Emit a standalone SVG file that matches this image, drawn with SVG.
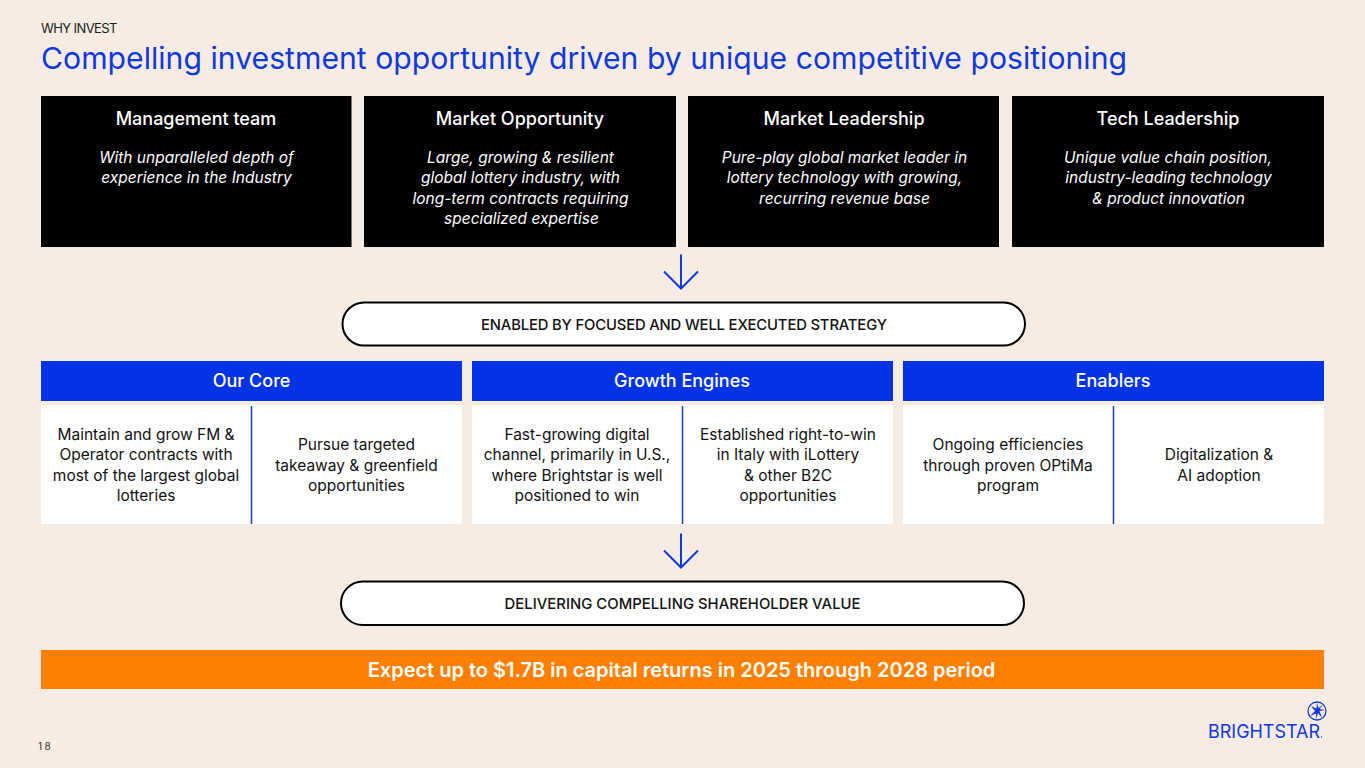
<svg xmlns="http://www.w3.org/2000/svg" width="1365" height="768" viewBox="0 0 1365 768">
<style>
text{font-family:"Inter","Liberation Sans",sans-serif}
.h{font-size:18px;font-weight:500;fill:#fff;text-anchor:middle}
.i{font-size:15.500px;font-style:italic;fill:#fff;text-anchor:middle}
.b{font-size:15.500px;fill:#111;text-anchor:middle}
.p{font-size:14.800px;font-weight:500;fill:#111;text-anchor:middle}
.pill{fill:#fff;stroke:#000;stroke-width:2}
.k{fill:#000}.bl{fill:#0433e6}.w{fill:#fff}
.ln{stroke:#0f3ad8;fill:none;stroke-width:2}
.dv{stroke:#0f3ad8;fill:none;stroke-width:1.500}
</style>
<defs><path id="arr" d="M0-34V0M-17-17L0 0L17-17" class="ln"/></defs>
<rect width="1365" height="768" fill="#f6ece3"/>
<text x="41" y="33" font-size="13" letter-spacing="-0.6" fill="#1a1a1a">WHY INVEST</text>
<text x="41" y="69" font-size="30.200" fill="#0f3ad8">Compelling investment opportunity driven by unique competitive positioning</text>
<g id="n-management"><rect class="k" x="41" y="96" width="310.500" height="151"/><text class="h" x="196" y="125">Management team</text><text class="i" x="196.500" y="163">With unparalleled depth of</text><text class="i" x="196.500" y="183">experience in the Industry</text></g>
<g id="n-opportunity"><rect class="k" x="364" y="96" width="312" height="151"/><text class="h" x="520" y="125">Market Opportunity</text><text class="i" x="520.500" y="163">Large, growing &amp; resilient</text><text class="i" x="520.500" y="183">global lottery industry, with</text><text class="i" x="520.500" y="204">long-term contracts requiring</text><text class="i" x="521.500" y="224">specialized expertise</text></g>
<g id="n-leadership"><rect class="k" x="688" y="96" width="311" height="151"/><text class="h" x="844" y="125">Market Leadership</text><text class="i" x="844.500" y="163">Pure-play global market leader in</text><text class="i" x="844.500" y="183">lottery technology with growing,</text><text class="i" x="844.500" y="204">recurring revenue base</text></g>
<g id="n-tech"><rect class="k" x="1012" y="96" width="312" height="151"/><text class="h" x="1168" y="125">Tech Leadership</text><text class="i" x="1168" y="163">Unique value chain position,</text><text class="i" x="1168.500" y="183">industry-leading technology</text><text class="i" x="1168.500" y="204">&amp; product innovation</text></g>
<g id="connectors"><use href="#arr" x="681" y="288.500"/><use href="#arr" x="681" y="567.500"/></g>
<g id="n-enabled"><rect class="pill" x="342.500" y="302.500" width="682.500" height="43" rx="21.500"/><text class="p" x="684" y="329.500" textLength="406">ENABLED BY FOCUSED AND WELL EXECUTED STRATEGY</text></g>
<g id="n-core"><rect class="bl" x="41" y="361" width="421" height="40"/><text class="h" x="251.500" y="387">Our Core</text><rect class="w" x="41" y="405" width="421" height="119"/><path class="dv" d="M251.500 406V524"/><text class="b" x="146" y="440">Maintain and grow FM &amp;</text><text class="b" x="146" y="460">Operator contracts with</text><text class="b" x="146" y="481">most of the largest global</text><text class="b" x="146" y="501">lotteries</text><text class="b" x="356.500" y="450">Pursue targeted</text><text class="b" x="356.500" y="471">takeaway &amp; greenfield</text><text class="b" x="356.500" y="491">opportunities</text></g>
<g id="n-growth"><rect class="bl" x="472" y="361" width="421" height="40"/><text class="h" x="682" y="387">Growth Engines</text><rect class="w" x="472" y="405" width="421" height="119"/><path class="dv" d="M682.500 406V524"/><text class="b" x="577" y="440">Fast-growing digital</text><text class="b" x="577" y="460">channel, primarily in U.S.,</text><text class="b" x="577" y="481">where Brightstar is well</text><text class="b" x="577" y="501">positioned to win</text><text class="b" x="788" y="440">Established right-to-win</text><text class="b" x="788" y="460">in Italy with iLottery</text><text class="b" x="788" y="481">&amp; other B2C</text><text class="b" x="788" y="501">opportunities</text></g>
<g id="n-enablers"><rect class="bl" x="903" y="361" width="421" height="40"/><text class="h" x="1113" y="387">Enablers</text><rect class="w" x="903" y="405" width="421" height="119"/><path class="dv" d="M1113.500 406V524"/><text class="b" x="1008" y="450">Ongoing efficiencies</text><text class="b" x="1008" y="471">through proven OPtiMa</text><text class="b" x="1008" y="491">program</text><text class="b" x="1219" y="460">Digitalization &amp;</text><text class="b" x="1219" y="481">AI adoption</text></g>
<g id="n-delivering"><rect class="pill" x="341" y="581.500" width="683" height="43.500" rx="21.700"/><text class="p" x="682.500" y="608.500" textLength="356">DELIVERING COMPELLING SHAREHOLDER VALUE</text></g>
<g id="n-returns"><rect x="41" y="650" width="1283" height="39" fill="#ff7f00"/><text x="681.500" y="676.500" font-size="20" font-weight="600" fill="#fff" text-anchor="middle">Expect up to $1.7B in capital returns in 2025 through 2028 period</text></g>
<text x="38" y="750" font-size="10" letter-spacing="2.500" fill="#333">18</text>
<g id="logo"><text x="1208" y="738" font-size="19" font-family="Liberation Sans" fill="#0f3ad8" textLength="112" lengthAdjust="spacingAndGlyphs">BRIGHTSTAR</text><circle cx="1321.500" cy="737" r="0.700" fill="#0f3ad8"/><circle cx="1317" cy="711" r="9" fill="none" stroke="#0f3ad8" stroke-width="1.300"/><path d="M1317 703L1316.500 708.500L1311 706L1315 711L1310 716L1316 713.500L1316 719L1318 713L1322 718L1319.500 711L1325 710L1319.500 709L1323 704.500L1318.500 708Z" fill="#0f3ad8"/></g>
</svg>
